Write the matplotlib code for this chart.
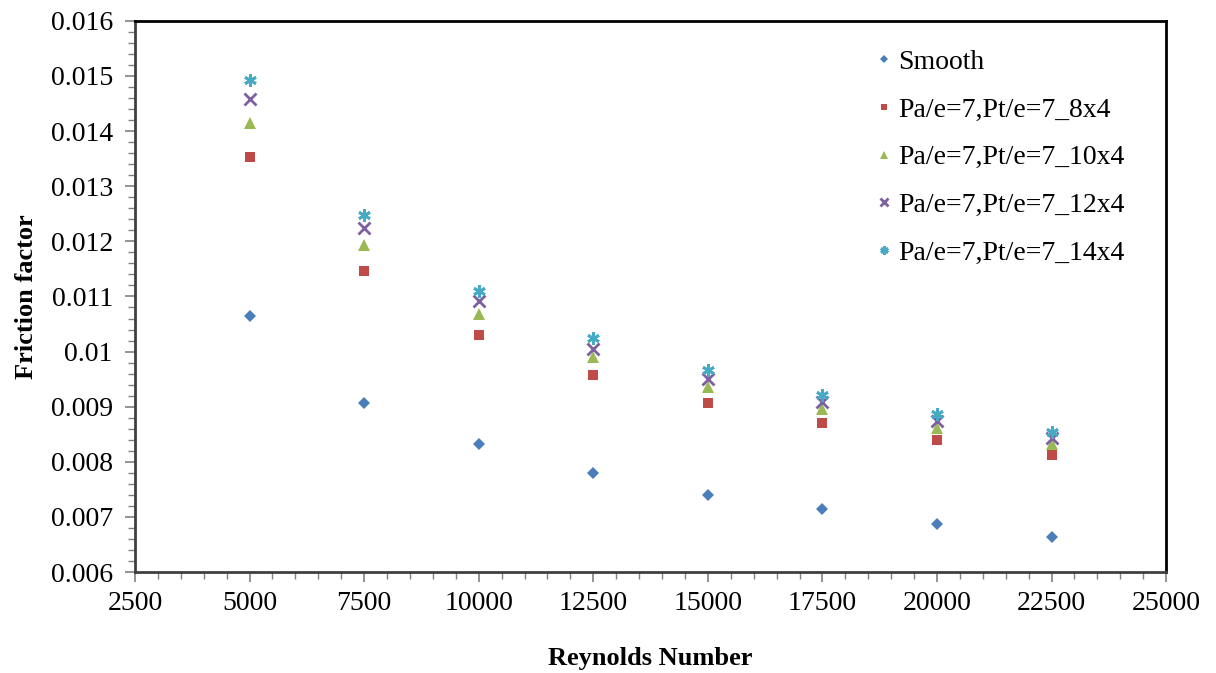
import matplotlib
matplotlib.use("Agg")
import matplotlib.pyplot as plt
from matplotlib.ticker import MultipleLocator, FuncFormatter

plt.rcParams["font.family"] = ["Liberation Serif", "DejaVu Serif"]

reynolds = [5000, 7500, 10000, 12500, 15000, 17500, 20000, 22500]
smooth = [0.01065, 0.00907, 0.00833, 0.00779, 0.00739, 0.00714, 0.00687, 0.00663]
rib_8x4 = [0.01353, 0.01146, 0.01030, 0.00957, 0.00907, 0.00870, 0.00840, 0.00812]
rib_10x4 = [0.01415, 0.01194, 0.01068, 0.00990, 0.00936, 0.00896, 0.00861, 0.00832]
rib_12x4 = [0.01458, 0.01224, 0.01092, 0.01005, 0.00950, 0.00908, 0.00874, 0.00843]
rib_14x4 = [0.01493, 0.01248, 0.01110, 0.01025, 0.00967, 0.00921, 0.00887, 0.00854]

series = [
    ("Smooth", smooth, "D", "#4a7ebb", 6),
    ("Pa/e=7,Pt/e=7_8x4", rib_8x4, "s", "#be4b48", 7),
    ("Pa/e=7,Pt/e=7_10x4", rib_10x4, "^", "#98b954", 8),
    ("Pa/e=7,Pt/e=7_12x4", rib_12x4, "x", "#7d60a0", 8),
    ("Pa/e=7,Pt/e=7_14x4", rib_14x4, (6, 2, 0), "#46aac5", 9),
]

fig = plt.figure(figsize=(12.16, 6.73), dpi=100)
ax = fig.add_axes([0.111, 0.150, 0.848, 0.819])

for label, vals, marker, color, size in series:
    stroked = marker == "x" or isinstance(marker, tuple)
    ax.plot(reynolds, vals, linestyle="none", marker=marker, markersize=size,
            color=color, markeredgewidth=2 if stroked else 0, label=label)

ax.set_xlim(2500, 25000)
ax.set_ylim(0.006, 0.016)
ax.xaxis.set_major_locator(MultipleLocator(2500))
ax.xaxis.set_minor_locator(MultipleLocator(500))
ax.yaxis.set_major_locator(MultipleLocator(0.001))
ax.yaxis.set_minor_locator(MultipleLocator(0.0002))
# Excel style: 0.01 rather than 0.010
ax.yaxis.set_major_formatter(FuncFormatter(
    lambda v, p: "0.01" if abs(v - 0.01) < 1e-9 else f"{v:.3f}"))
ax.xaxis.set_major_formatter(FuncFormatter(lambda v, p: f"{int(round(v))}"))

ax.tick_params(which="both", direction="out", color="#808080", labelsize=20)
ax.tick_params(which="major", length=7, width=1.2)
ax.tick_params(which="minor", length=5, width=1.0)
ax.tick_params(axis="y", pad=9)
ax.tick_params(axis="x", pad=7)

for side in ("left", "bottom"):
    ax.spines[side].set_color("#404040")
    ax.spines[side].set_linewidth(2)
for side in ("top", "right"):
    ax.spines[side].set_color("black")
    ax.spines[side].set_linewidth(2)

ax.set_xlabel("Reynolds Number", fontsize=19, fontweight="bold", labelpad=22)
ax.set_ylabel("Friction factor", fontsize=19, fontweight="bold", labelpad=9)

ax.legend(loc="upper left", bbox_to_anchor=(0.708, 0.968), frameon=False,
          fontsize=20, handletextpad=0.2, labelspacing=0.8, handlelength=0.6,
          markerscale=0.65, borderaxespad=0)

fig.savefig("out.png", dpi=100)
